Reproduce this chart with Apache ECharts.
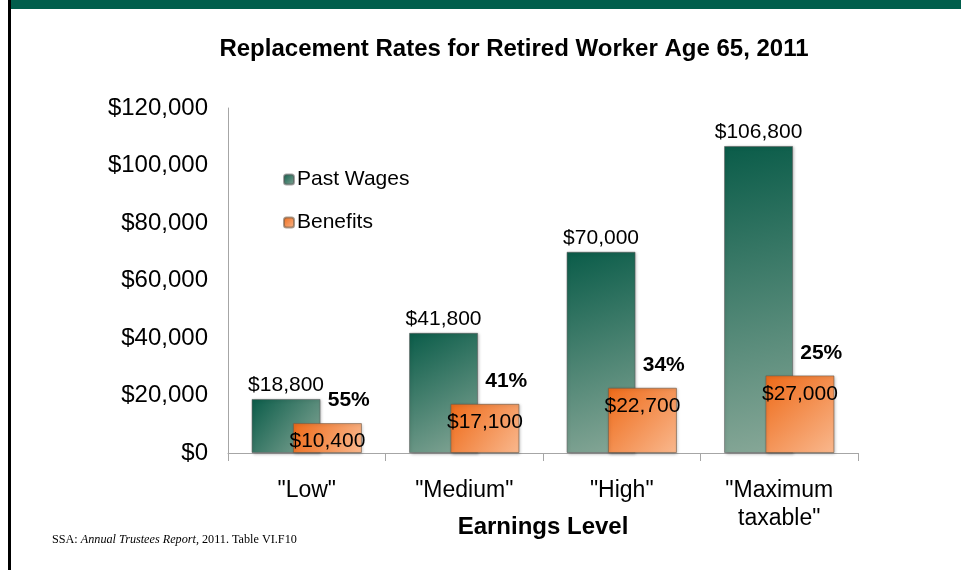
<!DOCTYPE html>
<html style="height: 100%">
<head>
    <meta charset="utf-8">
</head>
<body style="height: 100%; margin: 0; background: #fff">
    <div id="container" style="height: 100%"></div>
    <script type="text/javascript" src="https://cdn.jsdelivr.net/npm/echarts@6/dist/echarts.min.js"></script>
    <script type="text/javascript">
        // chart data
        var categories = ['"Low"', '"Medium"', '"High"', '"Maximum\ntaxable"'];
        var pastWages = [18800, 41800, 70000, 106800];
        var benefits = [10400, 17100, 22700, 27000];
        var replacePct = [55, 41, 34, 25];

        var dom = document.getElementById("container");
        var myChart = echarts.init(dom);
        var sans = '"Liberation Sans", Arial, sans-serif';

        function money(v) {
            return '$' + String(v).replace(/\B(?=(\d{3})+(?!\d))/g, ',');
        }

        var greenFill = new echarts.graphic.LinearGradient(0, 0, 1, 1, [
            { offset: 0, color: '#0a5c49' },
            { offset: 1, color: '#88a898' }
        ]);
        var orangeFill = new echarts.graphic.LinearGradient(0, 0, 1, 1, [
            { offset: 0, color: '#ee6a18' },
            { offset: 1, color: '#f9b88e' }
        ]);

        var option = {
            backgroundColor: '#ffffff',
            animation: false,
            textStyle: { fontFamily: sans },
            title: {
                text: 'Replacement Rates for Retired Worker Age 65, 2011',
                left: 509,
                textAlign: 'center',
                top: 32,
                textStyle: { fontFamily: sans, fontSize: 24, fontWeight: 'bold', color: '#000' }
            },
            legend: {
                orient: 'vertical',
                left: 278,
                top: 164,
                itemWidth: 10,
                itemHeight: 10,
                itemGap: 22,
                data: ['Past Wages', 'Benefits'],
                textStyle: { fontFamily: sans, fontSize: 21, color: '#000', padding: [0, 0, 0, -2] }
            },
            grid: { left: 228, right: 103, top: 108, bottom: 117 },
            xAxis: {
                type: 'category',
                data: categories,
                name: 'Earnings Level',
                nameLocation: 'middle',
                nameGap: 62,
                nameMoveOverlap: false,
                nameTextStyle: { fontFamily: sans, fontSize: 24, fontWeight: 'bold', color: '#000' },
                axisLine: { lineStyle: { color: '#a6a6a6' } },
                axisTick: { show: true, length: 8, lineStyle: { color: '#a6a6a6' } },
                axisLabel: { fontFamily: sans, fontSize: 23, color: '#000', margin: 24, lineHeight: 28 }
            },
            yAxis: {
                type: 'value',
                min: 0,
                max: 120000,
                interval: 20000,
                splitLine: { show: false },
                axisLine: { show: true, lineStyle: { color: '#a6a6a6' } },
                axisTick: { show: false },
                axisLabel: { fontFamily: sans, fontSize: 24, color: '#000', margin: 20, formatter: money }
            },
            series: [{
                name: 'Past Wages',
                type: 'bar',
                barWidth: 69,
                barGap: '-40%',
                data: pastWages,
                itemStyle: {
                    color: greenFill,
                    borderColor: 'rgba(90,90,90,0.55)',
                    borderWidth: 1,
                    shadowColor: 'rgba(0,0,0,0.25)',
                    shadowBlur: 3,
                    shadowOffsetX: 1,
                    shadowOffsetY: 1
                },
                label: {
                    show: true,
                    position: 'top',
                    distance: 3,
                    fontFamily: sans,
                    fontSize: 21,
                    color: '#000',
                    formatter: function(p) { return money(p.value); }
                }
            }, {
                name: 'Benefits',
                type: 'bar',
                barWidth: 69,
                barGap: '-40%',
                data: benefits,
                itemStyle: {
                    color: orangeFill,
                    borderColor: 'rgba(110,90,70,0.6)',
                    borderWidth: 1,
                    shadowColor: 'rgba(0,0,0,0.25)',
                    shadowBlur: 3,
                    shadowOffsetX: 1,
                    shadowOffsetY: 1
                },
                label: {
                    show: true,
                    position: 'insideTop',
                    distance: 8,
                    fontFamily: sans,
                    fontSize: 21,
                    color: '#000',
                    formatter: function(p) { return money(p.value); }
                }
            }, {
                // replacement percentage shown above each benefits bar
                name: 'Rate',
                type: 'scatter',
                symbolSize: 0,
                data: benefits,
                z: 5,
                itemStyle: { opacity: 1 },
                label: {
                    show: true,
                    position: 'top',
                    distance: 5,
                    offset: [42, -7],
                    fontFamily: sans,
                    fontSize: 21,
                    fontWeight: 'bold',
                    color: '#000',
                    formatter: function(p) { return replacePct[p.dataIndex] + '%'; }
                }
            }],
            graphic: [{
                type: 'rect',
                shape: { x: 11, y: 0, width: 950, height: 9 },
                style: { fill: '#015e4c' }
            }, {
                type: 'rect',
                shape: { x: 8, y: 0, width: 3, height: 570 },
                style: { fill: '#000' }
            }, {
                type: 'text',
                left: 52,
                top: 534,
                style: {
                    text: '{n|SSA: }{i|Annual Trustees Report}{n|, 2011. Table VI.F10}',
                    rich: {
                        n: { fontFamily: '"Liberation Serif", "Times New Roman", serif', fontSize: 12.2, fill: '#000' },
                        i: { fontFamily: '"Liberation Serif", "Times New Roman", serif', fontSize: 12.2, fontStyle: 'italic', fill: '#000' }
                    }
                }
            }]
        };

        myChart.setOption(option);
    </script>
</body>
</html>
